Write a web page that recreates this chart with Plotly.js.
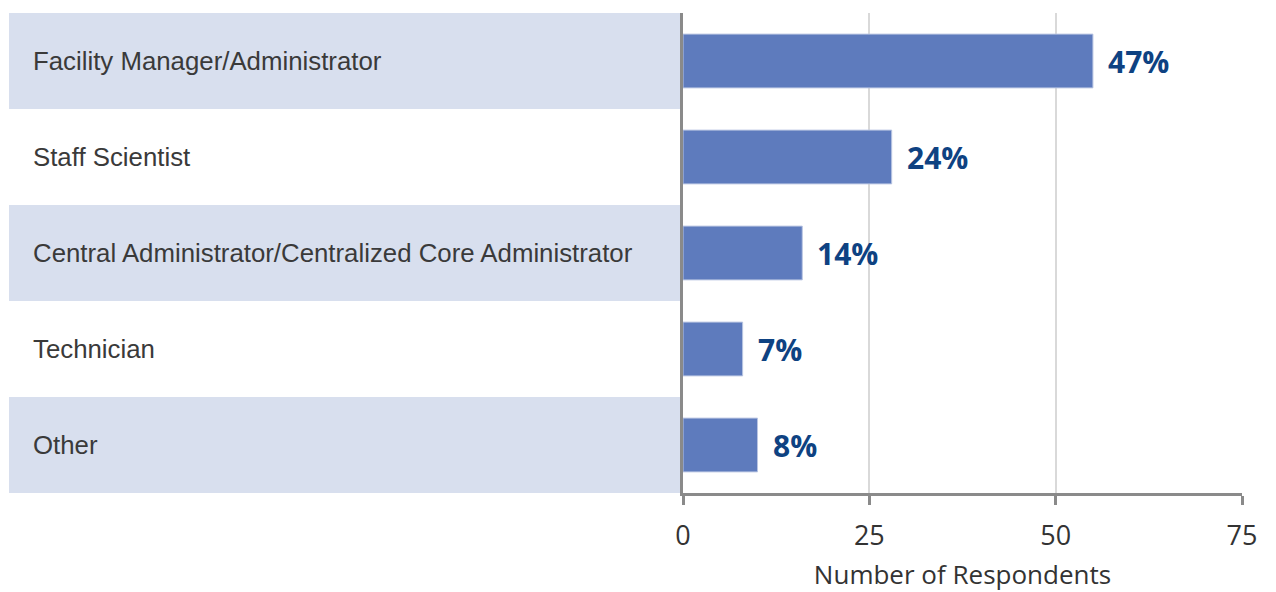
<!DOCTYPE html>
<html>
<head>
<meta charset="utf-8">
<script src="https://cdn.plot.ly/plotly-3.0.1.min.js"></script>
<style>html,body{margin:0;padding:0;background:#fff;}#chart{width:1276px;height:592px;}</style>
</head>
<body>
<div id="chart"></div>
<script>
const categories = [
  "Facility Manager/Administrator",
  "Staff Scientist",
  "Central Administrator/Centralized Core Administrator",
  "Technician",
  "Other"
];
const counts = [55, 28, 16, 8, 10];
const percentLabels = ["47%", "24%", "14%", "7%", "8%"];
const xTicks = [0, 25, 50, 75];

const W = 1276, L = 683, R = 34;
const plotW = W - L - R;
const bandLeft = (9 - L) / plotW;
const labelLeft = (31 - L) / plotW;

const shapes = [];
categories.forEach((c, i) => {
  if (i % 2 === 0) {
    shapes.push({
      type: 'rect', xref: 'paper', yref: 'y',
      x0: bandLeft, x1: 0, y0: i - 0.5, y1: i + 0.5,
      fillcolor: '#d8dfee', line: {width: 0}, layer: 'below'
    });
  }
});

const annotations = [];
categories.forEach((c, i) => {
  annotations.push({
    xref: 'paper', yref: 'y', x: labelLeft, y: c, xanchor: 'left', yanchor: 'middle',
    text: c, showarrow: false,
    font: {family: 'Liberation Sans, Arial, sans-serif', size: 25.8, color: '#3a3a3a'}
  });
  annotations.push({
    xref: 'x', yref: 'y', x: counts[i], y: c, xanchor: 'left', yanchor: 'middle',
    xshift: 13, text: '<b>' + percentLabels[i] + '</b>', showarrow: false,
    font: {family: 'Open Sans, sans-serif', size: 30, color: '#0e4282'}
  });
});

const trace = {
  type: 'bar', orientation: 'h',
  x: counts, y: categories,
  width: 0.56,
  marker: {color: '#5e7bbd', line: {color: '#b9c5e2', width: 1}},
  hoverinfo: 'x+y'
};

const layout = {
  width: 1276, height: 592,
  margin: {l: L, r: R, t: 13, b: 99, pad: 0},
  paper_bgcolor: '#ffffff', plot_bgcolor: 'rgba(0,0,0,0)',
  showlegend: false,
  xaxis: {
    range: [0, 75], tickvals: xTicks, ticktext: xTicks.map(String),
    showgrid: true, gridcolor: '#d9d9d9', gridwidth: 2,
    zeroline: false,
    showline: true, linecolor: '#8a8a8a', linewidth: 3,
    ticks: 'outside', ticklen: 9, tickwidth: 3, tickcolor: '#8a8a8a',
    ticklabelstandoff: 8,
    tickfont: {family: 'Open Sans, sans-serif', size: 27, color: '#333333'},
    title: {text: 'Number of Respondents', standoff: 23,
            font: {family: 'Open Sans, sans-serif', size: 26, color: '#333333'}},
    fixedrange: true
  },
  yaxis: {
    type: 'category', categoryorder: 'array', categoryarray: categories,
    range: [4.5, -0.5],
    showticklabels: false, showgrid: false, zeroline: false,
    showline: true, linecolor: '#8a8a8a', linewidth: 3, ticks: '',
    fixedrange: true
  },
  shapes: shapes,
  annotations: annotations
};

Plotly.newPlot('chart', [trace], layout, {displayModeBar: false, staticPlot: true});
</script>
</body>
</html>
